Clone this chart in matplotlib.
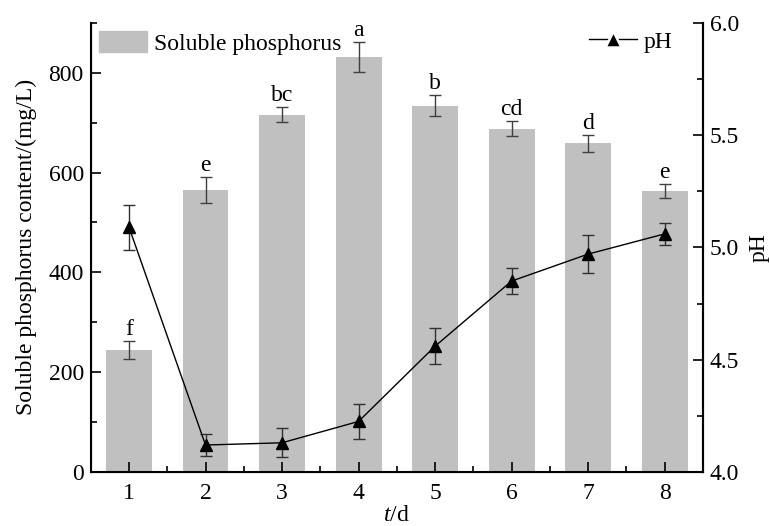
import matplotlib
matplotlib.use("Agg")
import matplotlib.pyplot as plt
from matplotlib.ticker import MultipleLocator, FormatStrFormatter
from matplotlib.lines import Line2D
from matplotlib.patches import Patch

plt.rcParams['font.family'] = ['Liberation Serif', 'DejaVu Serif']
plt.rcParams['mathtext.fontset'] = 'custom'
plt.rcParams['mathtext.it'] = 'Liberation Serif:italic'
plt.rcParams['mathtext.rm'] = 'Liberation Serif'

days = [1, 2, 3, 4, 5, 6, 7, 8]
phosphorus = [245, 565, 716, 832, 734, 688, 659, 563]
phosphorus_err = [18, 27, 15, 30, 21, 15, 17, 14]
letters = ['f', 'e', 'bc', 'a', 'b', 'cd', 'd', 'e']
ph = [5.09, 4.12, 4.13, 4.225, 4.56, 4.85, 4.97, 5.06]
ph_err = [0.10, 0.05, 0.065, 0.077, 0.08, 0.057, 0.085, 0.05]

FS = 17

fig = plt.figure(figsize=(7.69, 5.26), dpi=100)
ax = fig.add_axes([0.118, 0.1027, 0.796, 0.854])
ax.bar(days, phosphorus, width=0.6, color='#c0c0c0', zorder=1)
ax.errorbar(days, phosphorus, yerr=phosphorus_err, fmt='none', ecolor='#404040',
            elinewidth=1.0, capsize=4, capthick=1.0, zorder=2)
for d, v, e, l in zip(days, phosphorus, phosphorus_err, letters):
    ax.text(d, v + e + 2, l, ha='center', va='bottom', fontsize=FS)

ax.set_xlim(0.5, 8.5)
ax.set_ylim(0, 900)
ax.xaxis.set_major_locator(MultipleLocator(1))
ax.xaxis.set_minor_locator(MultipleLocator(0.5))
ax.yaxis.set_major_locator(MultipleLocator(200))
ax.yaxis.set_minor_locator(MultipleLocator(100))
ax.tick_params(which='both', direction='in', labelsize=FS, width=1.2)
ax.tick_params(axis='y', pad=5)
ax.tick_params(axis='x', pad=8)
ax.tick_params(which='major', length=7)
ax.tick_params(which='minor', length=4)
ax.spines['top'].set_visible(False)
for s in ['left', 'bottom', 'right']:
    ax.spines[s].set_linewidth(1.5)
ax.set_ylabel('Soluble phosphorus content/(mg/L)', fontsize=FS, labelpad=8)
ax.set_xlabel('$t$/d', fontsize=FS, labelpad=1)

ax2 = ax.twinx()
ax2.errorbar(days, ph, yerr=ph_err, color='black', ecolor='#303030', marker='^',
             markersize=8, linewidth=1.0, elinewidth=1.0, capsize=4, capthick=1.0)
ax2.set_ylim(4.0, 6.0)
ax2.yaxis.set_major_locator(MultipleLocator(0.5))
ax2.yaxis.set_minor_locator(MultipleLocator(0.25))
ax2.yaxis.set_major_formatter(FormatStrFormatter('%.1f'))
ax2.tick_params(which='both', direction='in', labelsize=FS, width=1.2, pad=5)
ax2.tick_params(which='major', length=7)
ax2.tick_params(which='minor', length=4)
ax2.spines['top'].set_visible(False)
ax2.spines['right'].set_linewidth(1.5)
ax2.set_ylabel('pH', fontsize=FS, labelpad=7)

leg1 = ax.legend(handles=[Patch(color='#c0c0c0', label='Soluble phosphorus')],
                 loc='upper left', frameon=False, fontsize=FS,
                 handlelength=2.05, handleheight=1.0, borderaxespad=0.15, handletextpad=0.3,
                 borderpad=0.2)
leg2 = ax2.legend(handles=[Line2D([0], [0], color='black', marker='^', markersize=11,
                                  markeredgecolor='white', markeredgewidth=1.8,
                                  linewidth=1.0, label='pH')],
                  loc='upper right', frameon=False, fontsize=FS,
                  handlelength=2.05, borderaxespad=0.15, handletextpad=0.25, borderpad=0.2,
                  bbox_to_anchor=(0.963, 1.0))

fig.savefig('out.png', dpi=100)
